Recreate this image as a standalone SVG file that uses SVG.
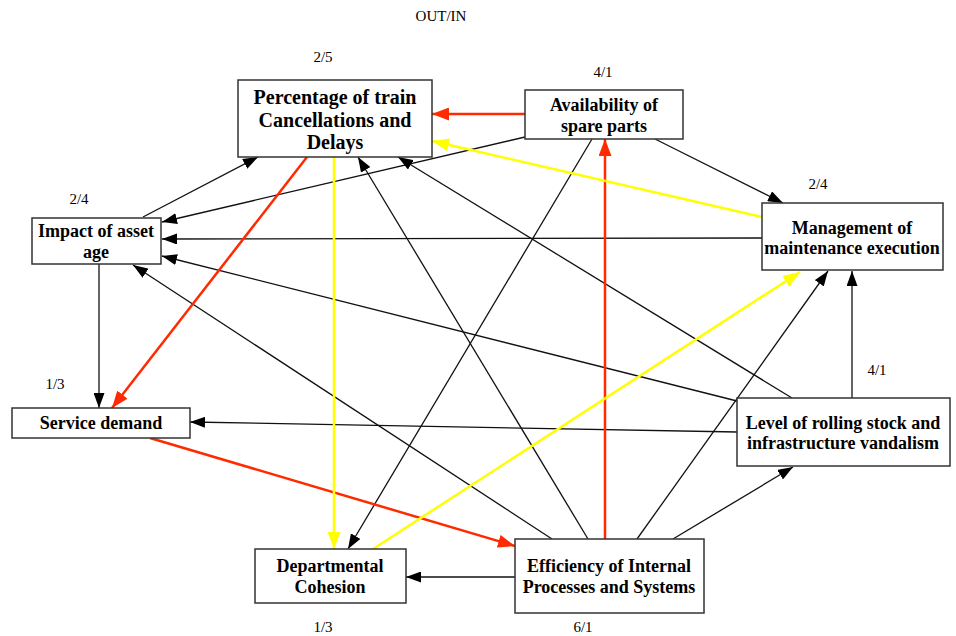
<svg xmlns="http://www.w3.org/2000/svg" width="956" height="636" viewBox="0 0 956 636">
<style>
.node rect{fill:#fff;stroke:#333;stroke-width:1.5}
.node text{font-family:"Liberation Serif",serif;font-weight:bold;font-size:18px;text-anchor:middle;fill:#000}
.node text.big{font-size:20px}
.node text.lbl,.title{font-family:"Liberation Serif",serif;font-weight:normal;font-size:15px;text-anchor:middle;fill:#000}
.k{stroke:#111;stroke-width:1.3;fill:none;marker-end:url(#ak)}
.r{stroke:#ff2a00;stroke-width:2.5;fill:none;marker-end:url(#ar)}
.y{stroke:#ffff00;stroke-width:2.5;fill:none;marker-end:url(#ay)}
</style>
<defs>
<marker id="ak" markerUnits="userSpaceOnUse" markerWidth="15" markerHeight="11" refX="15" refY="5.5" orient="auto"><path d="M0,0 L15,5.5 L0,11 z" fill="#000"/></marker>
<marker id="ar" markerUnits="userSpaceOnUse" markerWidth="17" markerHeight="13" refX="17" refY="6.5" orient="auto"><path d="M0,0 L17,6.5 L0,13 z" fill="#ff2a00"/></marker>
<marker id="ay" markerUnits="userSpaceOnUse" markerWidth="17" markerHeight="13" refX="17" refY="6.5" orient="auto"><path d="M0,0 L17,6.5 L0,13 z" fill="#ffff00"/></marker>
</defs>
<rect width="956" height="636" fill="#fff"/>
<text class="title" x="441" y="21">OUT/IN</text>
<g id="connectors">
<line class="k" x1="525" y1="137" x2="162" y2="222"/>
<line class="k" x1="762" y1="238" x2="162" y2="239"/>
<line class="k" x1="737" y1="401" x2="162" y2="256"/>
<line class="k" x1="552" y1="539" x2="133" y2="265"/>
<line class="k" x1="143" y1="217" x2="258" y2="157"/>
<line class="k" x1="588" y1="539" x2="358" y2="157"/>
<line class="k" x1="792" y1="398" x2="398" y2="157"/>
<line class="k" x1="655" y1="139" x2="783" y2="203"/>
<line class="k" x1="592" y1="139" x2="348" y2="549"/>
<line class="k" x1="99" y1="264" x2="99" y2="408"/>
<line class="k" x1="737" y1="432" x2="190" y2="422"/>
<line class="k" x1="852" y1="398" x2="852" y2="271"/>
<line class="k" x1="637" y1="539" x2="828" y2="271"/>
<line class="k" x1="673" y1="539" x2="793" y2="467"/>
<line class="k" x1="515" y1="577" x2="406" y2="577"/>
<line class="r" x1="525" y1="114" x2="432" y2="114"/>
<line class="r" x1="307" y1="157" x2="112" y2="408"/>
<line class="r" x1="605" y1="539" x2="605" y2="139"/>
<line class="r" x1="150" y1="438" x2="515" y2="546"/>
<line class="y" x1="762" y1="217" x2="432" y2="141"/>
<line class="y" x1="334" y1="157" x2="334" y2="549"/>
<line class="y" x1="373" y1="549" x2="800" y2="272"/>
</g>
<g id="percentage" class="node">
<rect x="238" y="80" width="194" height="77"/>
<text class="big" x="335" y="104">Percentage of train</text>
<text class="big" x="335" y="127">Cancellations and</text>
<text class="big" x="335" y="149">Delays</text>
<text class="lbl" x="323" y="62">2/5</text>
</g>
<g id="availability" class="node">
<rect x="525" y="90" width="158" height="49"/>
<text x="604" y="111">Availability of</text>
<text x="604" y="132">spare parts</text>
<text class="lbl" x="603" y="77">4/1</text>
</g>
<g id="impact" class="node">
<rect x="32" y="218" width="129" height="46"/>
<text x="96" y="237">Impact of asset</text>
<text x="96" y="258">age</text>
<text class="lbl" x="79" y="204">2/4</text>
</g>
<g id="management" class="node">
<rect x="762" y="203" width="181" height="67"/>
<text x="852" y="234">Management of</text>
<text x="852" y="254">maintenance execution</text>
<text class="lbl" x="818" y="189">2/4</text>
</g>
<g id="service" class="node">
<rect x="12" y="408" width="178" height="30"/>
<text x="101" y="429">Service demand</text>
<text class="lbl" x="55" y="389">1/3</text>
</g>
<g id="vandalism" class="node">
<rect x="737" y="398" width="213" height="68"/>
<text x="843" y="429">Level of rolling stock and</text>
<text x="843" y="449">infrastructure vandalism</text>
<text class="lbl" x="877" y="375">4/1</text>
</g>
<g id="departmental" class="node">
<rect x="255" y="549" width="151" height="54"/>
<text x="330" y="572">Departmental</text>
<text x="330" y="593">Cohesion</text>
<text class="lbl" x="323" y="632">1/3</text>
</g>
<g id="efficiency" class="node">
<rect x="515" y="539" width="189" height="74"/>
<text x="609" y="572">Efficiency of Internal</text>
<text x="609" y="593">Processes and Systems</text>
<text class="lbl" x="583" y="632">6/1</text>
</g>
</svg>
